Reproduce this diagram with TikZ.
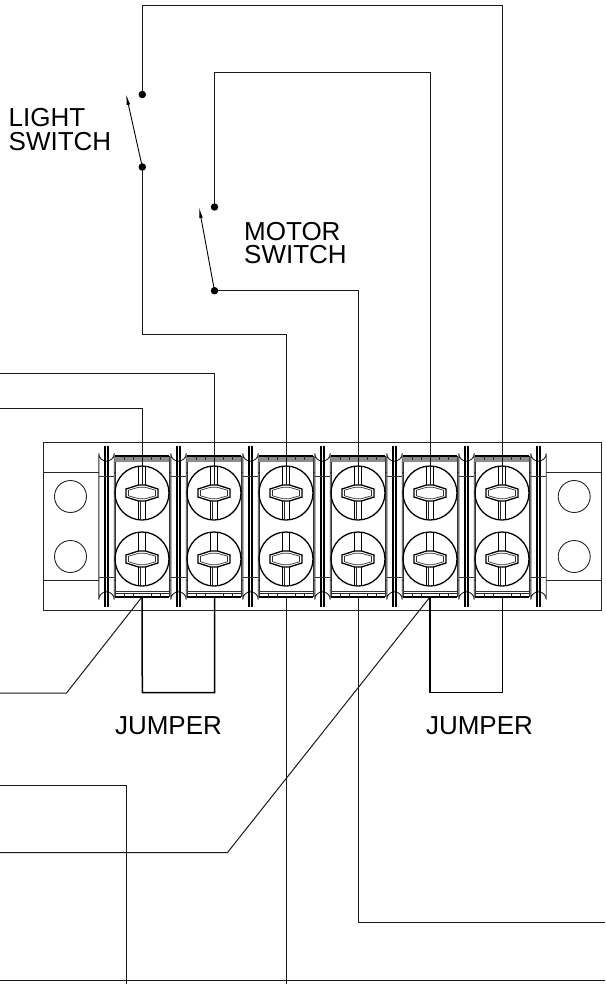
\documentclass[tikz,border=0pt]{standalone}
\usepackage{fontspec}
\setmainfont{Liberation Sans}
\usetikzlibrary{arrows.meta}
\tikzset{
  wire/.style={line width=1pt,draw=black!90,line join=miter},
  jumperwire/.style={line width=1.5pt,draw=black,line join=miter},
  body/.style={line width=0.9pt,draw=black!85},
  heavy/.style={line width=1.3pt,draw=black},
  thin/.style={line width=0.7pt,draw=black!80},
  contact/.style={circle,fill=black,inner sep=0pt,minimum size=7.5pt},
  blade/.style={line width=0.9pt,-{Latex[length=11pt,width=3.6pt]}},
  lbl/.style={font=\fontsize{26}{26}\selectfont,inner sep=0pt,anchor=base},
  lblleft/.style={font=\fontsize{26}{26}\selectfont,inner sep=0pt,anchor=base west},
}
\newcommand{\screwhead}[2]{%
  \begin{scope}[shift={(#1,#2)}]
    \draw[heavy] (0,0) circle (27);
    \draw[heavy] (-16,-4) -- (-3.5,-8) -- (3.5,-8) -- (16,-4) -- (16,4) -- (3.5,8) -- (-3.5,8) -- (-16,4) -- cycle;
    \draw[thin] (-13.5,-2.8) -- (-3,-5.8) -- (3,-5.8) -- (13.5,-2.8) -- (13.5,2.8) -- (3,5.8) -- (-3,5.8) -- (-13.5,2.8) -- cycle;
    \draw[heavy] (-3.4,-26.5) -- (-3.4,-8) (3.4,-26.5) -- (3.4,-8);
    \draw[heavy] (-3.4,26.5) -- (-3.4,8) (3.4,26.5) -- (3.4,8);
    \draw[body] (-1.2,26.5) -- (-1.2,8);
  \end{scope}}
\newcommand{\barrier}[1]{%
  \begin{scope}[shift={(#1,0)}]
    \draw[fill=white,body] (-7.7,453.5) arc[start angle=180,end angle=0,radius=7.7] -- (7.7,599.5) arc[start angle=0,end angle=-180,radius=7.7] -- cycle;
    \draw[heavy] (-1.5,445.8) -- (-1.5,607.2) (1.5,445.8) -- (1.5,607.2);
    \draw[thin] (-7.7,476) -- (7.7,476) (-7.7,577) -- (7.7,577);
  \end{scope}}
\newcommand{\cell}[1]{%
  \begin{scope}[shift={(#1,0)}]
    \draw[thin] (-27,456) -- (-27,597) (27,456) -- (27,597);
    \fill[black!45] (-27,457) rectangle (27,461.5);
    \draw[heavy] (-27,456) -- (27,456);
    \foreach \t in {-18,-9,9,18} \draw[body] (\t,456) -- (\t,460);
    \draw[heavy] (-27,597) -- (27,597);
    \draw[body] (-27,593.3) -- (27,593.3);
    \draw[thin] (-27,591) -- (27,591);
    \foreach \t in {-18,-9,9,18} \draw[body] (\t,593.3) -- (\t,597);
  \end{scope}}
\begin{document}
\begin{tikzpicture}[x=1pt,y=-1pt]
\useasboundingbox (0,0) rectangle (605,984);
% block
\draw[body] (43.5,442.5) rectangle (601.5,610.5);
\draw[body] (43.5,472.5) -- (601.5,472.5) (43.5,580.5) -- (601.5,580.5);
\draw[body] (70.5,496.5) circle (16) (70.5,556.5) circle (16) (574.2,496.5) circle (16) (574.2,556.5) circle (16);
\foreach \x in {142,214,286,358,430,502} {\fill[white] (\x-27,446) rectangle (\x+27,607); \cell{\x}}
\foreach \x in {106.5,178.5,250.5,322.5,394.5,466.5,538.5} {\barrier{\x}}
\foreach \x in {142,214,286,358,430,502} {\screwhead{\x}{493}\screwhead{\x}{559}}
% named points
\coordinate (Tt1) at (142,485); \coordinate (Tt2) at (214.5,485); \coordinate (Tt3) at (286.5,485);
\coordinate (Tt4) at (358,485); \coordinate (Tt5) at (430,485); \coordinate (Tt6) at (502,485);
\coordinate (Tb1) at (142,597); \coordinate (Tb2) at (214.5,597); \coordinate (Tb3) at (286.5,597);
\coordinate (Tb4) at (358.5,597); \coordinate (Tb5) at (430,597); \coordinate (Tb6) at (502.5,597);
\node[contact] (LU) at (142.3,94.5) {};
\node[contact] (LL) at (142.3,167) {};
\node[contact] (MU) at (214.5,207) {};
\node[contact] (ML) at (214.5,290.7) {};
\coordinate (LT) at (126,94);
\coordinate (MT) at (199,207);
\draw[blade] (LL.center) -- (LT);
\draw[blade] (ML.center) -- (MT);
% wires
\draw[wire] (LU.center) -- (142.3,5.5) -- (Tt6|-0,5.5) -- (Tt6);
\draw[wire] (LL.center) -- (142.3,334) -- (Tt3|-0,334) -- (Tt3);
\draw[wire] (MU.center) -- (214.5,73) -- (Tt5|-0,73) -- (Tt5);
\draw[wire] (ML.center) -- (Tt4|-ML) -- (Tt4);
\draw[wire] (0,373) -- (Tt2|-0,373) -- (Tt2);
\draw[wire] (0,408) -- (Tt1|-0,408) -- (Tt1);
\draw[wire] (Tb3) -- (286.5,984);
\draw[wire] (Tb4) -- (358.5,922) -- (605,922);
\draw[wire] (0,693) -- (66.5,693) -- (Tb1);
\draw[wire] (0,852.5) -- (227.5,852.5) -- (Tb5);
\draw[wire] (0,785.5) -- (126,785.5) -- (126,984);
\draw[wire] (0,980.5) -- (605,980.5);
\draw[jumperwire] (Tb1) -- (142.3,692.5) -- (214.5,692.5) -- (Tb2);
\draw[jumperwire] (Tb5) -- (430,692.5) -- (502.5,692.5) -- (Tb6);
% labels
\node[lbl] (jl) at (168.5,734) {JUMPER};
\node[lbl] (jr) at (479.5,734) {JUMPER};
\node[lblleft] (ls1) at (8.5,127) {LIGHT};
\node[lblleft] (ls2) at (8.5,150.5) {SWITCH};
\node[lblleft] (ms1) at (244,240.7) {MOTOR};
\node[lblleft] (ms2) at (244,263.5) {SWITCH};
\end{tikzpicture}
\end{document}
